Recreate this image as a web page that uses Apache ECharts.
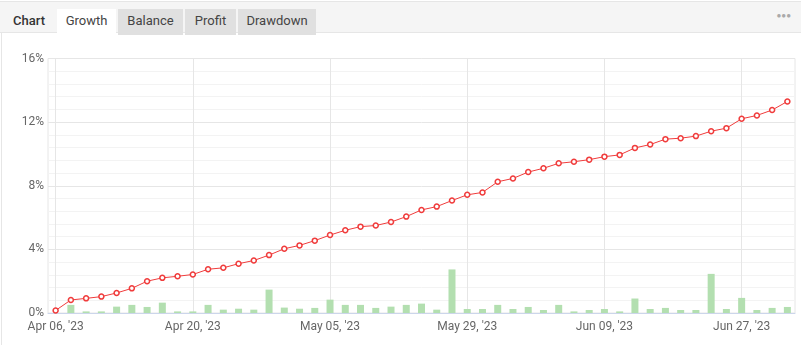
<!DOCTYPE html>
<html>
<head>
<meta charset="utf-8">
<script src="https://cdn.jsdelivr.net/npm/echarts@6/dist/echarts.min.js"></script>
<style>
  html, body { margin: 0; padding: 0; background: #fff; }
  body { width: 801px; height: 345px; position: relative; overflow: hidden; font-family: Roboto, "Noto Sans", sans-serif; }
  .head { position: absolute; left: 0; top: 1px; width: 801px; height: 32px; background: #f5f5f5; border-top: 1px solid #e6e6e6; border-bottom: 1px solid #e6e6e6; box-sizing: border-box; }
  .tab { position: absolute; top: 7px; height: 26px; line-height: 24px; font-size: 13px; color: #444; text-align: center; background: #e0e0e0; }
  .tab.active { background: #fff; height: 27px; }
  .title { position: absolute; left: 13px; top: 7px; line-height: 24px; font-size: 13px; color: #333; font-weight: 500; }
  .dots { position: absolute; right: 10px; top: 9px; font-size: 8px; color: #aaa; letter-spacing: 0px; }
  .side { position: absolute; left: 1px; top: 33px; width: 1px; height: 312px; background: #e6e6e6; }
  #chart { position: absolute; left: 0; top: 34px; width: 801px; height: 311px; }
</style>
</head>
<body>
<div class="head">
  <div class="title">Chart</div>
  <div class="tab active" style="left:57px;width:59px;">Growth</div>
  <div class="tab" style="left:118px;width:65px;">Balance</div>
  <div class="tab" style="left:185px;width:51px;">Profit</div>
  <div class="tab" style="left:238px;width:78px;">Drawdown</div>
  <div class="dots">●●●</div>
</div>
<div class="side"></div>
<div id="chart"></div>
<script>
// trading days shown on the category axis
const dates = [
  "Apr 06, '23", "Apr 07, '23", "Apr 10, '23", "Apr 11, '23", "Apr 12, '23", "Apr 13, '23", "Apr 14, '23",
  "Apr 17, '23", "Apr 18, '23", "Apr 20, '23", "Apr 21, '23", "Apr 24, '23", "Apr 25, '23", "Apr 26, '23",
  "Apr 27, '23", "Apr 28, '23", "May 02, '23", "May 03, '23", "May 05, '23", "May 08, '23", "May 10, '23",
  "May 12, '23", "May 15, '23", "May 17, '23", "May 19, '23", "May 23, '23", "May 25, '23", "May 29, '23",
  "May 30, '23", "May 31, '23", "Jun 01, '23", "Jun 02, '23", "Jun 05, '23", "Jun 06, '23", "Jun 07, '23",
  "Jun 08, '23", "Jun 09, '23", "Jun 12, '23", "Jun 13, '23", "Jun 14, '23", "Jun 15, '23", "Jun 16, '23",
  "Jun 19, '23", "Jun 20, '23", "Jun 23, '23", "Jun 27, '23", "Jun 28, '23", "Jun 29, '23", "Jun 30, '23"
]

// cumulative growth, %
const growth = [
  0.16, 0.82, 0.92, 1.03, 1.26, 1.55, 2.00, 2.21, 2.31, 2.42,
  2.75, 2.84, 3.10, 3.30, 3.64, 4.04, 4.25, 4.55, 4.90, 5.20,
  5.43, 5.50, 5.72, 6.06, 6.48, 6.69, 7.07, 7.43, 7.58, 8.25,
  8.46, 8.86, 9.10, 9.41, 9.51, 9.64, 9.83, 9.94, 10.38, 10.59,
  10.93, 10.99, 11.12, 11.43, 11.62, 12.21, 12.42, 12.76, 13.30
]

// per-day growth, %
const daily = [
  0, 0.51, 0.1, 0.1, 0.40, 0.51, 0.38, 0.65, 0.1, 0.1,
  0.51, 0.21, 0.27, 0.21, 1.47, 0.34, 0.27, 0.32, 0.84, 0.51,
  0.51, 0.32, 0.40, 0.51, 0.59, 0.21, 2.74, 0.25, 0.25, 0.51,
  0.25, 0.38, 0.19, 0.51, 0.1, 0.19, 0.25, 0.1, 0.91, 0.25,
  0.32, 0.19, 0.19, 2.46, 0.25, 0.95, 0.19, 0.32, 0.38
]

const yTicks = [0, 4, 8, 12, 16]

const chart = echarts.init(document.getElementById('chart'))

chart.setOption({
  animation: false,
  textStyle: { fontFamily: 'Roboto, "Noto Sans", sans-serif' },
  grid: {
    left: 48,
    right: 6,
    top: 24.5,
    bottom: 32,
    show: true,
    borderColor: '#e6e6e6',
    borderWidth: 1,
  },
  xAxis: {
    type: 'category',
    data: dates,
    boundaryGap: true,
    axisLine: { lineStyle: { color: '#ccd6eb' } },
    axisTick: { show: false },
    axisLabel: {
      interval: 8,
      color: '#666',
      fontSize: 12,
      margin: 8,
    },
    splitLine: {
      show: true,
      interval: 8,
      alignWithLabel: true,
      lineStyle: { color: '#e6e6e6' },
    },
  },
  yAxis: {
    type: 'value',
    min: yTicks[0],
    max: yTicks[yTicks.length - 1],
    interval: 4,
    axisLine: { show: false },
    axisTick: { show: false },
    axisLabel: {
      color: '#666',
      fontSize: 12,
      margin: 4,
      formatter: '{value}%',
    },
    splitLine: { lineStyle: { color: '#e6e6e6' } },
    minorTick: { show: false, splitNumber: 5 },
    minorSplitLine: { show: true, lineStyle: { color: '#f3f3f3' } },
  },
  series: [
    {
      name: 'Daily',
      type: 'bar',
      data: daily,
      barWidth: 7,
      itemStyle: { color: '#b3dfb0' },
      z: 3,
    },
    {
      name: 'Growth',
      type: 'line',
      data: growth,
      symbol: 'circle',
      symbolSize: 5,
      lineStyle: { color: '#f03c3c', width: 1 },
      itemStyle: { color: '#fff', borderColor: '#f03c3c', borderWidth: 1.5 },
      z: 4,
    },
  ],
})
</script>
</body>
</html>
